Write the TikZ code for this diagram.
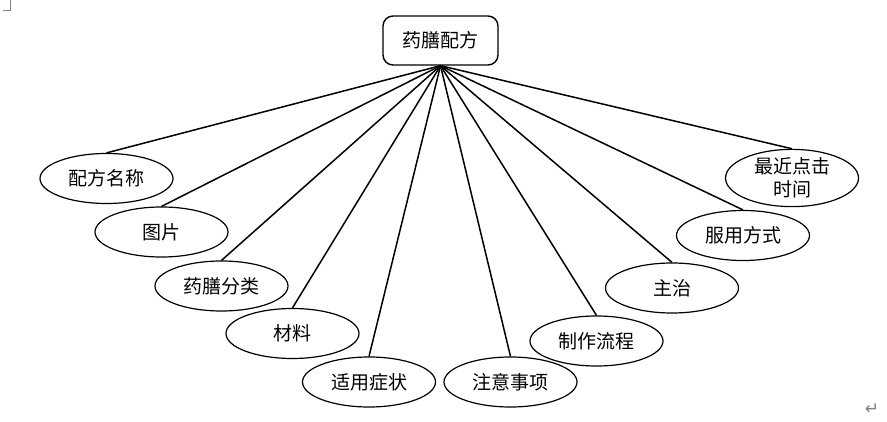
\documentclass[tikz,border=0pt]{standalone}
\usepackage{fontspec}
\newfontfamily\cjk{Noto Sans CJK SC}
\newfontfamily\markfont{DejaVu Sans}
\usetikzlibrary{shapes.geometric}

\begin{document}
\begin{tikzpicture}[x=1pt, y=-1pt, font=\cjk\fontsize{19}{23}\selectfont]
% Setup the style for the entities
\tikzset{root style/.style={draw,
		rounded corners=10pt,
		line width=1.4pt,
		minimum width=115pt,
		minimum height=49pt},
	leaf style/.style={ellipse, draw,
		line width=1.2pt,
		inner sep=0pt,
		align=center,
		minimum width=133pt,
		minimum height=50pt}}
\useasboundingbox (0,0) rectangle (887,422);

% Word page marks
\draw[gray, line width=0.8pt] (10.5,0) -- (10.5,10.5) -- (3,10.5);
\node[gray, font=\markfont\fontsize{17}{17}\selectfont] at (872,409) (ret) {↵};

% Draw the entities
\node[root style] at (440.5,40.5) (recipe) {药膳配方};
\node[leaf style] at (106.5,178.5) (name)     {配方名称};
\node[leaf style] at (161.5,232)   (picture)  {图片};
\node[leaf style] at (221.5,286)   (category) {药膳分类};
\node[leaf style] at (292.5,333.5) (material) {材料};
\node[leaf style] at (369,382)     (symptom)  {适用症状};
\node[leaf style] at (510.5,382)   (notice)   {注意事项};
\node[leaf style] at (596.5,341)   (process)  {制作流程};
\node[leaf style] at (672,288)     (indicate) {主治};
\node[leaf style] at (743,235.5)   (usage)    {服用方式};
\node[leaf style] at (792,178)     (clicked)  {最近点击\\时间};

% Connect the entities
\draw[line width=1.5pt]
(recipe.south) edge (name.north)
(recipe.south) edge (picture.north)
(recipe.south) edge (category.north)
(recipe.south) edge (material.north)
(recipe.south) edge (symptom.north)
(recipe.south) edge (notice.north)
(recipe.south) edge (process.north)
(recipe.south) edge (indicate.north)
(recipe.south) edge (usage.north)
(recipe.south) edge (clicked.north);
\end{tikzpicture}
\end{document}
